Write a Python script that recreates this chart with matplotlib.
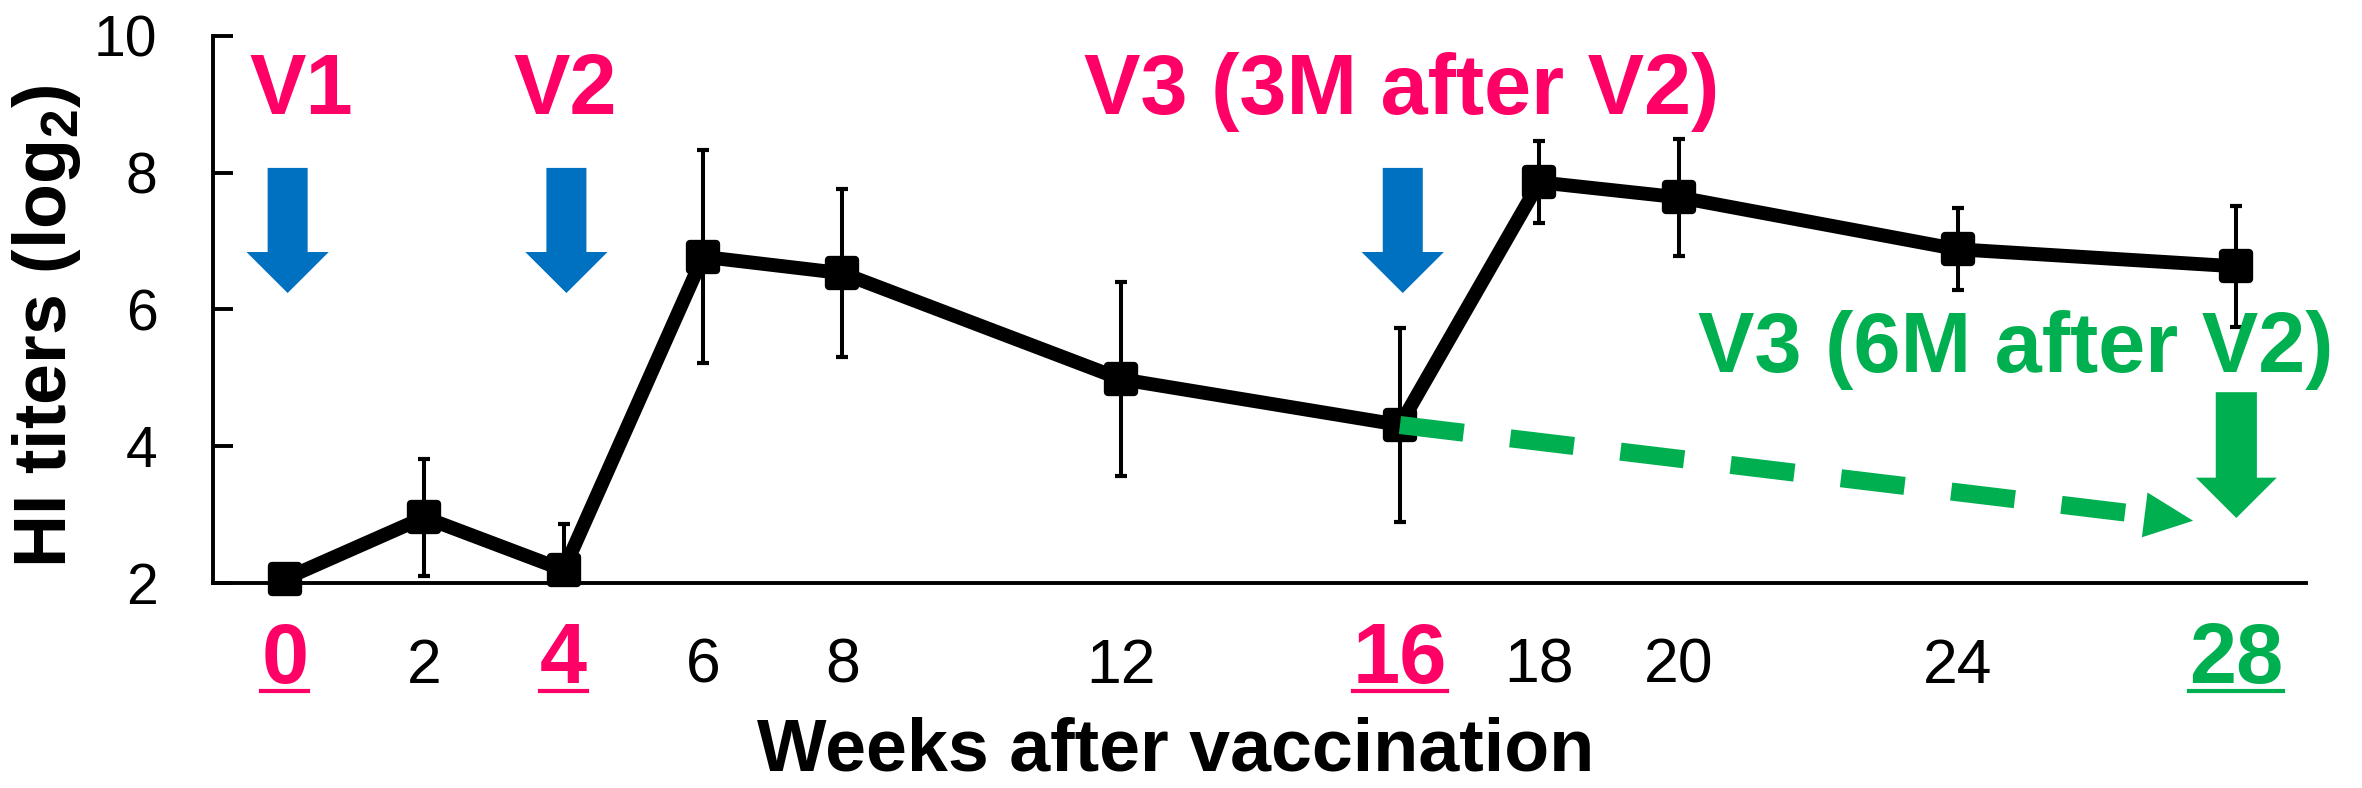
import numpy as np
import matplotlib
matplotlib.use("Agg")
import matplotlib.pyplot as plt
from matplotlib.markers import MarkerStyle
from matplotlib.patches import FancyArrow
from matplotlib.lines import Line2D

plt.rcParams['font.family'] = ['Liberation Sans', 'DejaVu Sans']
plt.rcParams['mathtext.fontset'] = 'custom'
plt.rcParams['mathtext.rm'] = 'Liberation Sans'
plt.rcParams['mathtext.bf'] = 'Liberation Sans:bold'

# data
weeks = [0, 2, 4, 6, 8, 12, 16, 18, 20, 24, 28]
hi_mean = [2.06, 2.96, 2.19, 6.77, 6.53, 4.98, 4.31, 7.86, 7.64, 6.88, 6.63]
hi_err = [0.0, 0.86, 0.67, 1.56, 1.23, 1.42, 1.42, 0.60, 0.86, 0.60, 0.88]

vacc_weeks = [0, 4, 16]
vacc_labels = ['V1', 'V2', 'V3 (3M after V2)']
late_week = 28
late_label = 'V3 (6M after V2)'

PINK = '#FF0066'
GREEN = '#00B050'
BLUE = '#0070C0'

fig = plt.figure(figsize=(23.62, 7.88), dpi=100)
ax = fig.add_axes([0.0902, 0.2602, 0.8861, 0.6942])

ax.errorbar(weeks, hi_mean, yerr=hi_err, fmt='none', ecolor='black',
            elinewidth=2.9, capsize=4.5, capthick=3, zorder=2)
ax.plot(weeks, hi_mean, color='black', lw=10,
        marker=MarkerStyle('s', joinstyle='round'), ms=19, mew=6,
        mfc='black', mec='black', zorder=3, clip_on=False)

ax.set_xlim(-1.03, 29.0)
ax.set_ylim(2, 10)

# blue arrows + labels for V1, V2, V3
for w in vacc_weeks:
    ax.add_patch(FancyArrow(w + 0.04, 8.07, 0, -(8.07 - 6.24), width=0.574,
                            head_width=1.18, head_length=0.60,
                            length_includes_head=True, color=BLUE, lw=0))
text_x = {0: 0.23, 4: 4.02, 16: 16.02}
for w, lab in zip(vacc_weeks, vacc_labels):
    ax.text(text_x[w], 8.86, lab, color=PINK, fontsize=61, fontweight='bold',
            ha='center', va='baseline')

# green: V3 at 6 months
ax.text(24.83, 5.08, late_label, color=GREEN, fontsize=61, fontweight='bold',
        ha='center', va='baseline')
ax.add_patch(FancyArrow(late_week, 4.79, 0, -(4.79 - 2.95), width=0.59,
                        head_width=1.16, head_length=0.59,
                        length_includes_head=True, color=GREEN, lw=0))

# dashed arrow from week 16 point
sx, sy = weeks[6], hi_mean[6]
tx, ty = 27.38, 2.91
d = np.array([tx - sx, ty - sy])
d = d / np.hypot(*d)
head_len = 0.70
bx, by = tx - d[0] * head_len, ty - d[1] * head_len
ax.plot([sx, bx], [sy, by], color=GREEN, lw=13, dashes=(3.55, 2.6),
        solid_capstyle='butt', zorder=4)
ax.add_patch(FancyArrow(bx, by, tx - bx, ty - by, width=0, head_width=0.66,
                        head_length=head_len, length_includes_head=True,
                        color=GREEN, lw=0, zorder=4))

# axes styling
for s in ['top', 'right']:
    ax.spines[s].set_visible(False)
for s in ['left', 'bottom']:
    ax.spines[s].set_linewidth(2.8)

ax.set_yticks([2, 4, 6, 8, 10])
ax.tick_params(axis='y', direction='in', length=14.4, width=2.8,
               labelsize=41, pad=40)

ax.set_xticks(weeks, labels=[str(w) for w in weeks])
ax.tick_params(axis='x', length=0, pad=72)
special = {w: PINK for w in vacc_weeks}
special[late_week] = GREEN
for w, tl in zip(weeks, ax.get_xticklabels()):
    tl.set_va('baseline')
    if w in special:
        tl.set_color(special[w])
        tl.set_fontweight('bold')
        tl.set_fontsize(61)
    else:
        tl.set_fontsize(45)

ax.set_ylabel(r'HI titers (log$_\mathbf{2}$)', fontsize=53, fontweight='bold')
ax.yaxis.set_label_coords(-0.062, 0.47)
ax.set_xlabel('Weeks after vaccination', fontsize=53, fontweight='bold')
ax.xaxis.set_label_coords(0.460, -0.342)
ax.xaxis.label.set_va('baseline')

# underline the highlighted week labels
fig.canvas.draw()
r = fig.canvas.get_renderer()
inv = fig.transFigure.inverted()
for w, tl in zip(weeks, ax.get_xticklabels()):
    if w in special:
        bb = tl.get_window_extent(r)
        base_y = ax.transAxes.transform((0, 0))[1] - 72 * fig.dpi / 72
        y = base_y - 8
        (x0, yy), (x1, _) = inv.transform([(bb.x0, y), (bb.x1, y)])
        fig.add_artist(Line2D([x0, x1], [yy, yy], color=special[w], lw=3))

fig.savefig('out.png', dpi=100)
